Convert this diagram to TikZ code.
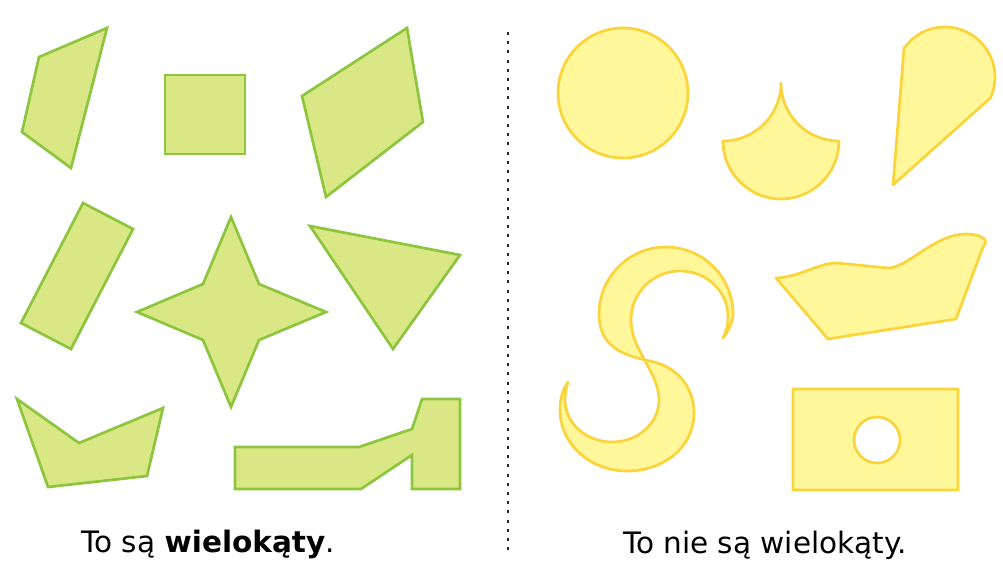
\documentclass[tikz,border=0pt]{standalone}
\usepackage{fontspec}
\setmainfont{DejaVu Sans}
\usepackage{tikz}
\definecolor{polyfill}{HTML}{D9E784}
\definecolor{polyline}{HTML}{8DC53F}
\definecolor{otherfill}{HTML}{FFF799}
\definecolor{otherline}{HTML}{FAD43A}
\tikzset{
  greenpoly/.style={draw=polyline, fill=polyfill, line width=2.7pt, line join=miter},
  yellowshape/.style={draw=otherline, fill=otherfill, line width=2.7pt, line join=round},
  caption/.style={anchor=base, inner sep=0pt, font=\fontsize{29.5}{34}\selectfont}
}

\begin{document}
\begin{tikzpicture}[x=1pt, y=-1pt]
  \useasboundingbox (0,0) rectangle (1003,574);
  % wielokaty
  \draw[greenpoly] (39,57) -- (107,28) -- (71,168) -- (22,132) -- cycle;
  \draw[greenpoly] (165,75) rectangle (245,154);
  \draw[greenpoly] (302,96) -- (407,28) -- (423,122) -- (326,197) -- cycle;
  \draw[greenpoly] (83,203) -- (133,229) -- (71,349) -- (21,323) -- cycle;
  \draw[greenpoly] (231,217) -- (259,284) -- (326,312) -- (259,340) -- (231,407)
    -- (203,340) -- (137,312) -- (203,284) -- cycle;
  \draw[greenpoly] (310,226) -- (460,255) -- (393,349) -- cycle;
  \draw[greenpoly] (17,399) -- (79,443) -- (163,408) -- (147,476) -- (48,487) -- cycle;
  \draw[greenpoly] (235,447) -- (359,447) -- (412,429) -- (422,399) -- (460,399)
    -- (460,489) -- (412,489) -- (412,455) -- (361,489) -- (235,489) -- cycle;
  % separator
  \coordinate (sepA) at (508,32);
  \coordinate (sepB) at (508,550);
  \draw[black!85, line width=2.8pt, dash pattern=on 3pt off 6.2pt] (sepA) -- (sepB);
  % nie wielokaty
  \draw[yellowshape] (623,93) circle[radius=65];
  \draw[yellowshape] (723,141) arc[start angle=90, end angle=0, radius=58]
    arc[start angle=180, end angle=90, radius=58]
    arc[start angle=0, end angle=180, radius=58] -- cycle;
  \draw[yellowshape] (893,185) -- (904,48.3) arc[start angle=-145, end angle=25, radius=50] -- cycle;
  % S
  \draw[yellowshape] (723,338) .. controls (728,332) and (733,322) .. (733,314)
    .. controls (733,277) and (703,247) .. (666,247)
    .. controls (629,247) and (599,277) .. (599,314)
    .. controls (599,345) and (620,355) .. (650,361)
    .. controls (680,367) and (694,390) .. (694,413)
    .. controls (694,447) and (664,471) .. (627,471)
    .. controls (590,471) and (560,444) .. (560,410)
    .. controls (560,398) and (563,389) .. (568,382)
    .. controls (566,388) and (565,394) .. (565,400)
    .. controls (565,423) and (586,442) .. (612,442)
    .. controls (638,442) and (659,423) .. (659,400)
    .. controls (659,372) and (631,350) .. (631,320)
    .. controls (631,293) and (653,271) .. (680,271)
    .. controls (707,271) and (728,292) .. (728,316)
    .. controls (728,326) and (726,333) .. (723,338) -- cycle;
  \draw[yellowshape] (776,278) .. controls (800,277) and (818,263) .. (837,263) -- (888,268)
    .. controls (908,268) and (935,233) .. (968,234)
    .. controls (984,235) and (989,241) .. (983,247) -- (956,319) -- (828,339) -- cycle;
  \draw[yellowshape, even odd rule] (793,389) rectangle (958,490) (877,440) circle[radius=23];
  % podpisy
  \node[caption] (yes) at (208,552) {To są \textbf{wielokąty}.};
  \node[caption] (no) at (765,553) {To nie są wielokąty.};
\end{tikzpicture}
\end{document}
